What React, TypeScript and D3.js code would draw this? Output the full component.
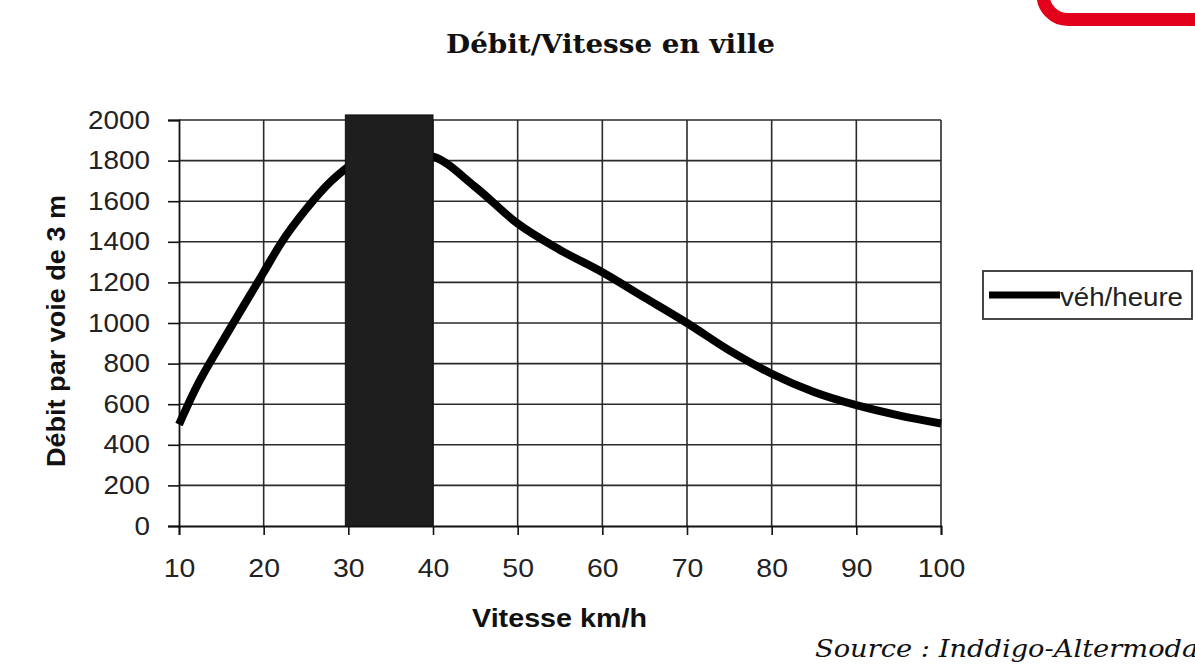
import React, { useRef, useEffect } from "react";
import * as d3 from "d3";

// speed (km/h) and flow per lane (veh/h)
const speeds = [10, 12, 15, 18, 20, 22, 25, 28, 30, 35, 40, 45, 50, 55, 60, 65, 70, 75, 80, 85, 90, 95, 100];
const flows = [500, 680, 900, 1110, 1250, 1390, 1560, 1700, 1770, 1850, 1820, 1670, 1490, 1360, 1250, 1125, 1000, 865, 750, 660, 595, 545, 505];
const xTicks = [10, 20, 30, 40, 50, 60, 70, 80, 90, 100];
const yTicks = [0, 200, 400, 600, 800, 1000, 1200, 1400, 1600, 1800, 2000];
const band = { from: 30, to: 40, top: 2025 };

const W = 1195;
const H = 664;

const App = () => {
  const ref = useRef<SVGSVGElement>(null);

  useEffect(() => {
    const svg = d3.select(ref.current);
    svg.selectAll("*").remove();

    const x = d3.scaleLinear().domain([10, 100]).range([179, 941]);
    const y = d3.scaleLinear().domain([0, 2000]).range([526, 120]);
    const sans = "'Liberation Sans', Arial, sans-serif";
    const grid = "#2a2a2a";
    const fmt = d3.format("d");

    // red frame corner (top right)
    svg
      .append("path")
      .attr("d", "M1043,-30 V-6 A25,25 0 0 0 1068,19.5 H1220")
      .attr("fill", "none")
      .attr("stroke", "#e2001a")
      .attr("stroke-width", 13);

    // title
    svg
      .append("text")
      .attr("x", 446)
      .attr("y", 53)
      .attr("font-family", "'DejaVu Serif', serif")
      .attr("font-weight", "bold")
      .attr("font-size", 26)
      .attr("textLength", 329)
      .attr("lengthAdjust", "spacingAndGlyphs")
      .attr("fill", "#111")
      .text("Débit/Vitesse en ville");

    // grid
    const g = svg.append("g");
    g.selectAll("line.h")
      .data(yTicks.filter((d) => d > 0))
      .join("line")
      .attr("class", "h")
      .attr("x1", x(10))
      .attr("x2", x(100))
      .attr("y1", (d) => y(d))
      .attr("y2", (d) => y(d))
      .attr("stroke", grid)
      .attr("stroke-width", 1.6);
    g.selectAll("line.v")
      .data(xTicks.filter((d) => d > 10))
      .join("line")
      .attr("class", "v")
      .attr("x1", (d) => x(d))
      .attr("x2", (d) => x(d))
      .attr("y1", y(2000))
      .attr("y2", y(0))
      .attr("stroke", grid)
      .attr("stroke-width", 1.6);

    // X axis
    const xAxis = svg
      .append("g")
      .attr("transform", `translate(0,${y(0)})`)
      .call(d3.axisBottom(x).tickValues(xTicks).tickFormat(fmt).tickSize(9).tickPadding(24));
    xAxis.select(".domain").attr("stroke", "#111").attr("stroke-width", 1.8);
    xAxis.selectAll(".tick line").attr("stroke", "#111").attr("stroke-width", 1.6);
    xAxis
      .selectAll<SVGTextElement, number>(".tick text")
      .attr("font-family", sans)
      .attr("font-size", 25)
      .attr("fill", "#222")
      .attr("textLength", (d) => fmt(d).length * 15.8)
      .attr("lengthAdjust", "spacingAndGlyphs");

    // Y axis
    const yAxis = svg
      .append("g")
      .attr("transform", `translate(${x(10)},0)`)
      .call(d3.axisLeft(y).tickValues(yTicks).tickFormat(fmt).tickSize(11).tickPadding(18));
    yAxis.select(".domain").attr("stroke", "#111").attr("stroke-width", 1.8);
    yAxis.selectAll(".tick line").attr("stroke", "#111").attr("stroke-width", 1.6);
    yAxis
      .selectAll<SVGTextElement, number>(".tick text")
      .attr("font-family", sans)
      .attr("font-size", 25)
      .attr("fill", "#222")
      .attr("textLength", (d) => fmt(d).length * 15.5)
      .attr("lengthAdjust", "spacingAndGlyphs");

    // axis titles
    svg
      .append("text")
      .attr("x", 472)
      .attr("y", 627)
      .attr("font-family", sans)
      .attr("font-weight", "bold")
      .attr("font-size", 25)
      .attr("textLength", 175)
      .attr("lengthAdjust", "spacingAndGlyphs")
      .attr("fill", "#111")
      .text("Vitesse km/h");
    svg
      .append("text")
      .attr("transform", "translate(65,467) rotate(-90)")
      .attr("font-family", sans)
      .attr("font-weight", "bold")
      .attr("font-size", 25)
      .attr("textLength", 272)
      .attr("lengthAdjust", "spacingAndGlyphs")
      .attr("fill", "#111")
      .text("Débit par voie de 3 m");

    // curve
    const pts = speeds.map((s, i) => [s, flows[i]] as [number, number]);
    svg
      .append("path")
      .datum(pts)
      .attr("fill", "none")
      .attr("stroke", "#000")
      .attr("stroke-width", 8)
      .attr(
        "d",
        d3
          .line<[number, number]>()
          .x((d) => x(d[0]))
          .y((d) => y(d[1]))
          .curve(d3.curveMonotoneX)
      );

    // dark band 30-40 km/h
    svg
      .append("rect")
      .attr("x", x(band.from) - 3)
      .attr("y", y(band.top))
      .attr("width", x(band.to) - x(band.from) + 3)
      .attr("height", y(0) - y(band.top))
      .attr("fill", "#1e1e1e")
      .attr("stroke", "#111")
      .attr("stroke-width", 1);

    // legend
    const lg = svg.append("g").attr("transform", "translate(983,271)");
    lg.append("rect")
      .attr("width", 209)
      .attr("height", 48)
      .attr("fill", "#fff")
      .attr("stroke", "#333")
      .attr("stroke-width", 1.8);
    lg.append("line")
      .attr("x1", 6)
      .attr("x2", 77)
      .attr("y1", 24)
      .attr("y2", 24)
      .attr("stroke", "#000")
      .attr("stroke-width", 7);
    lg.append("text")
      .attr("x", 77)
      .attr("y", 35)
      .attr("font-family", sans)
      .attr("font-size", 25)
      .attr("textLength", 123)
      .attr("lengthAdjust", "spacingAndGlyphs")
      .attr("fill", "#222")
      .text("véh/heure");

    // source (runs off the right edge, as in the original)
    svg
      .append("text")
      .attr("x", 815)
      .attr("y", 657)
      .attr("font-family", "'DejaVu Serif', serif")
      .attr("font-style", "italic")
      .attr("font-size", 24)
      .attr("textLength", 392)
      .attr("lengthAdjust", "spacingAndGlyphs")
      .attr("fill", "#111")
      .text("Source : Inddigo-Altermodal");
  }, []);

  return (
    <svg
      ref={ref}
      width={W}
      height={H}
      style={{ position: "absolute", left: 0, top: 0, background: "#fff" }}
    />
  );
};

export default App;
